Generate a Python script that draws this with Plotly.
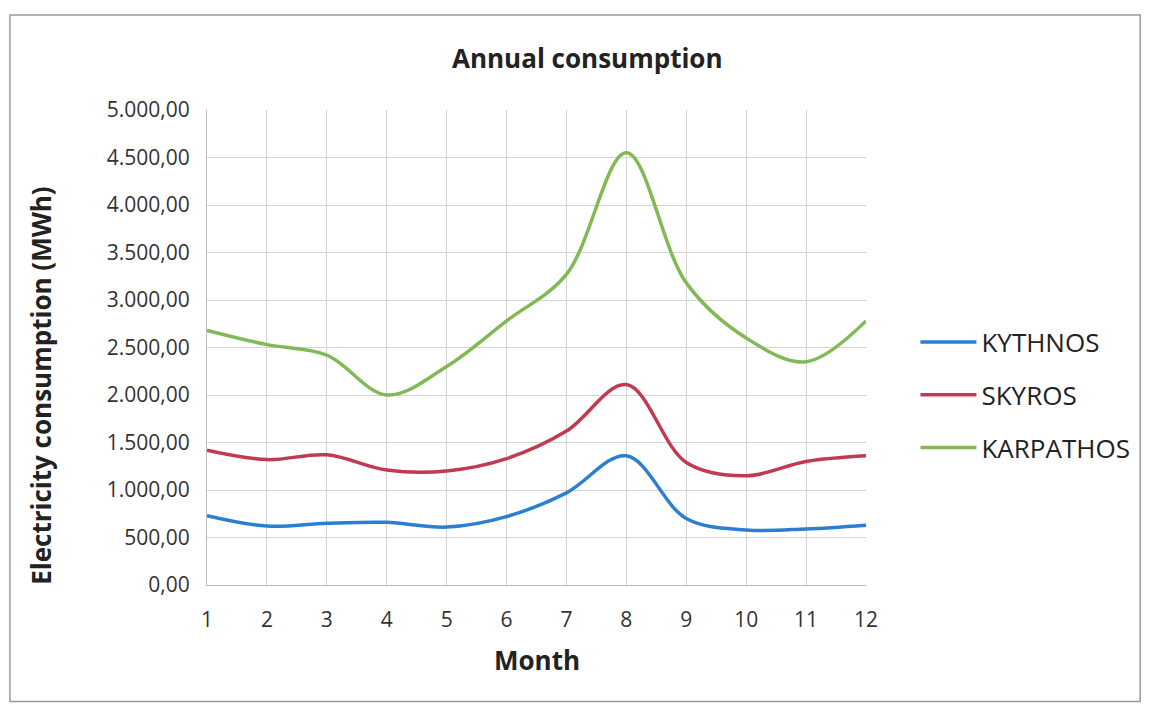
import plotly.graph_objects as go

months = list(range(1, 13))
kythnos = [730, 620, 650, 660, 610, 720, 970, 1360, 700, 580, 590, 630]
skyros = [1420, 1320, 1370, 1210, 1200, 1330, 1620, 2110, 1290, 1150, 1300, 1360]
karpathos = [2680, 2530, 2420, 2000, 2300, 2780, 3270, 4550, 3180, 2600, 2350, 2780]

series = [
    ("KYTHNOS", kythnos, "#2a7fd0"),
    ("SKYROS", skyros, "#c23a52"),
    ("KARPATHOS", karpathos, "#82b957"),
]

font_family = "Open Sans, Lato, sans-serif"

fig = go.Figure()
for name, vals, color in series:
    fig.add_trace(go.Scatter(
        x=months, y=vals, name=name, mode="lines",
        line=dict(color=color, width=3.5, shape="spline", smoothing=1.0),
        legendgroup=name,
    ))

fig.update_layout(
    width=1152, height=705,
    margin=dict(l=207, r=286, t=110, b=120),
    paper_bgcolor="white", plot_bgcolor="white",
    separators=",.",
    font=dict(family=font_family, color="#333333"),
    showlegend=True,
    legend=dict(
        x=1.075, y=0.40, xanchor="left", yanchor="middle",
        font=dict(size=26, color="#222222", family=font_family),
        tracegroupgap=16, itemwidth=56,
        bgcolor="rgba(0,0,0,0)",
    ),
    xaxis=dict(
        range=[1, 12], tickvals=months, ticktext=[str(m) for m in months],
        showgrid=True, gridcolor="#d4d4d4", gridwidth=1,
        showline=True, linecolor="#bdbdbd", linewidth=1,
        zeroline=False, ticks="", ticklabelstandoff=16,
        tickfont=dict(size=21, color="#333333"),
    ),
    yaxis=dict(
        range=[0, 5000], dtick=500, tickformat=",.2f",
        showgrid=True, gridcolor="#d4d4d4", gridwidth=1,
        showline=True, linecolor="#bdbdbd", linewidth=1,
        zeroline=False, ticks="", ticklabelstandoff=12,
        tickfont=dict(size=21, color="#333333"),
    ),
    annotations=[
        dict(text="<b>Annual consumption</b>", x=0.577, y=1.11,
             xref="paper", yref="paper", showarrow=False,
             xanchor="center", yanchor="middle",
             font=dict(size=26, color="#222222", family=font_family)),
        dict(text="<b>Month</b>", x=0.5, y=-0.158,
             xref="paper", yref="paper", showarrow=False,
             xanchor="center", yanchor="middle",
             font=dict(size=26, color="#222222", family=font_family)),
        dict(text="<b>Electricity consumption (MWh)</b>", x=-0.253, y=0.42,
             xref="paper", yref="paper", showarrow=False, textangle=-90,
             xanchor="center", yanchor="middle",
             font=dict(size=26, color="#222222", family=font_family)),
    ],
    shapes=[
        dict(type="rect", xref="paper", yref="paper",
             x0=-0.299, x1=1.416, y0=-0.245, y1=1.2,
             line=dict(color="#9a9a9a", width=1.5)),
    ],
)

fig.write_html("out.html")
